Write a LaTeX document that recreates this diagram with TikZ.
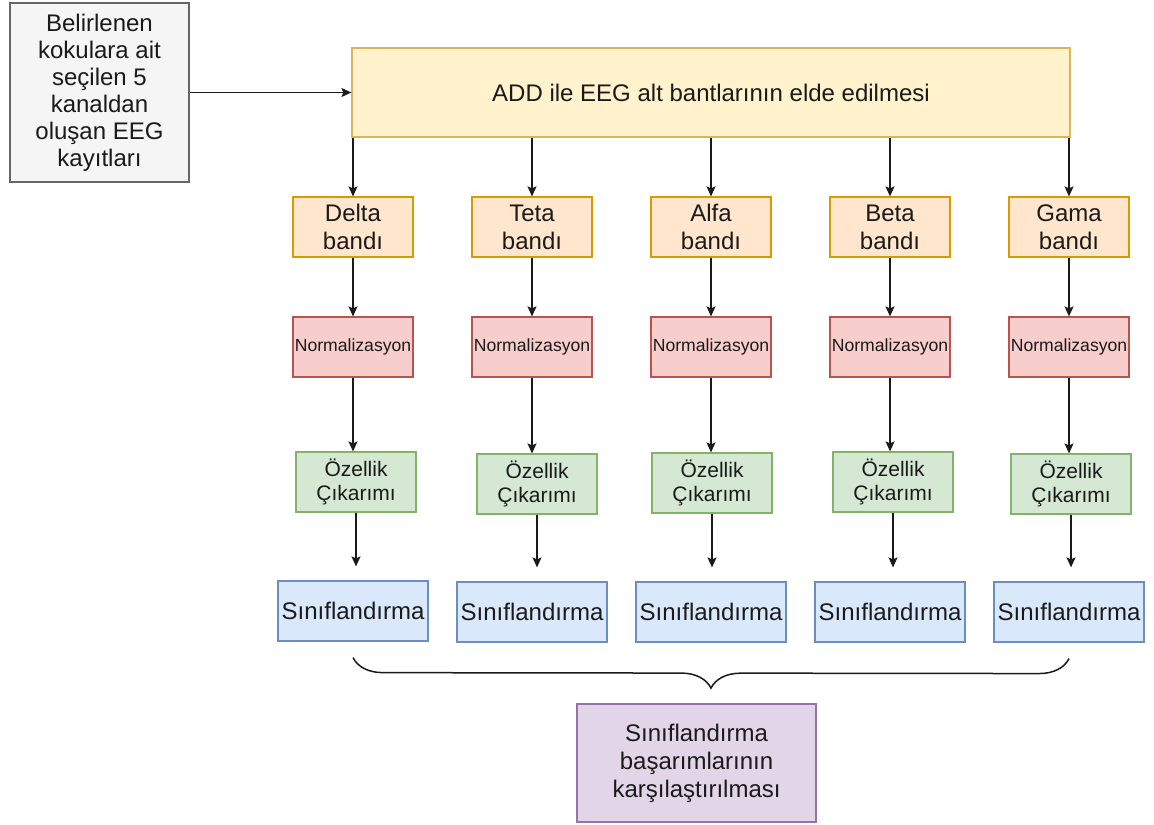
\documentclass[tikz,border=0pt]{standalone}
\usepackage{fontspec}
\setmainfont{Liberation Sans}
\usetikzlibrary{arrows.meta,decorations.pathreplacing}
\definecolor{inkline}{HTML}{1A1A1A}
\definecolor{grayfill}{HTML}{F5F5F5}
\definecolor{graydraw}{HTML}{666666}
\definecolor{yelfill}{HTML}{FFF2CC}
\definecolor{yeldraw}{HTML}{D6B656}
\definecolor{orafill}{HTML}{FFE6CC}
\definecolor{oradraw}{HTML}{D79B00}
\definecolor{redfill}{HTML}{F8CECC}
\definecolor{reddraw}{HTML}{B85450}
\definecolor{grnfill}{HTML}{D5E8D4}
\definecolor{grndraw}{HTML}{82B366}
\definecolor{blufill}{HTML}{DAE8FC}
\definecolor{bludraw}{HTML}{6C8EBF}
\definecolor{purfill}{HTML}{E1D5E7}
\definecolor{purdraw}{HTML}{9673A6}

\begin{document}
\begin{tikzpicture}[x=0.5pt,y=-0.5pt,>={Stealth[length=5pt,width=4.5pt,inset=1pt]},
  box/.style={draw,line width=0.6pt,inner sep=0pt,align=center,text=inkline,font=\fontsize{12}{14}\selectfont},
  srcbox/.style={box,fill=grayfill,draw=graydraw,minimum width=89.5pt,minimum height=89.5pt,font=\fontsize{12}{13.5}\selectfont},
  addbox/.style={box,fill=yelfill,draw=yeldraw,minimum width=359pt,minimum height=44.5pt},
  bandbox/.style={box,fill=orafill,draw=oradraw,minimum width=60pt,minimum height=30pt},
  normbox/.style={box,fill=redfill,draw=reddraw,minimum width=60pt,minimum height=30pt,font=\fontsize{8.8}{10}\selectfont},
  featbox/.style={box,fill=grnfill,draw=grndraw,minimum width=60pt,minimum height=30pt,font=\fontsize{10.5}{12}\selectfont},
  clsbox/.style={box,fill=blufill,draw=bludraw,minimum width=75pt,minimum height=30pt},
  cmpbox/.style={box,fill=purfill,draw=purdraw,minimum width=119.5pt,minimum height=59pt},
  link/.style={->,line width=0.75pt,inkline}]
\useasboundingbox (0,0) rectangle (1154,824);
\node[srcbox] (src) at (99.5,92.5) {Belirlenen\\kokulara ait\\seçilen 5\\kanaldan\\oluşan EEG\\kayıtları};
\node[addbox] (add) at (711,92.5) {ADD ile EEG alt bantlarının elde edilmesi};
\draw[link] (src) -- (add);
\foreach \k/\bx/\fx/\fy/\cy/\bname in {1/353/356/482/611/Delta,2/532/537/484/612/Teta,3/711/712/483/612/Alfa,4/890/893/482/612/Beta,5/1069/1071/484/612/Gama}{
  \node[bandbox] (band\k) at (\bx,227) {\bname\\bandı};
  \node[normbox] (norm\k) at (\bx,347) {Normalizasyon};
  \node[featbox] (feat\k) at (\fx,\fy) {Özellik\\Çıkarımı};
  \node[clsbox] (cls\k) at (\bx,\cy) {Sınıflandırma};
  \coordinate (tip\k) at ([yshift=7pt]cls\k.north);
  \draw[link] (add.south -| band\k.north) -- (band\k.north);
  \draw[link] (band\k) -- (norm\k);
  \draw[link] (norm\k.south) -- (norm\k.south |- feat\k.north);
  \draw[link] (feat\k.south) -- (feat\k.south |- tip\k);
}
\coordinate (braceL) at ([yshift=-8pt]cls1.south);
\coordinate (braceR) at ([yshift=-8pt]cls5.south);
\draw[decorate,decoration={brace,mirror,amplitude=15pt},line width=0.75pt,inkline] (braceL) -- (braceR);
\node[cmpbox] (cmp) at (696.5,763) {Sınıflandırma\\başarımlarının\\karşılaştırılması};
\end{tikzpicture}
\end{document}
